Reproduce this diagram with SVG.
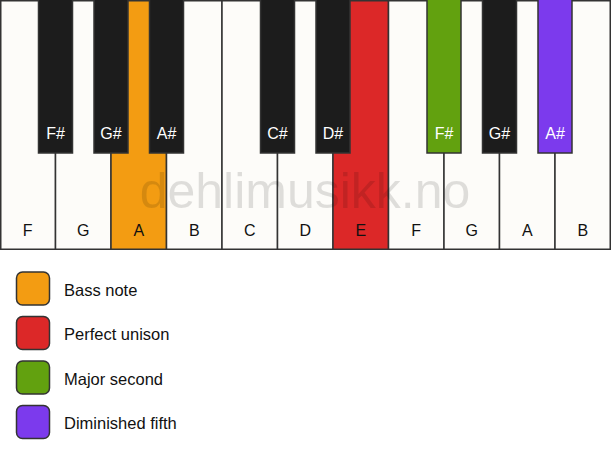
<svg xmlns="http://www.w3.org/2000/svg" width="611" height="461" viewBox="0 0 611 461">
<style>
.w{fill:#fdfcf9;stroke:#333;stroke-width:1.5}
.b{fill:#1c1c1c;stroke:#333;stroke-width:1.5}
.wl{font-family:"Liberation Sans",Arial,sans-serif;font-size:16px;fill:#111;text-anchor:middle}
.bl{font-family:"Liberation Sans",Arial,sans-serif;font-size:16px;fill:#fff;text-anchor:middle}
.lg{font-family:"Liberation Sans",Arial,sans-serif;font-size:16.5px;fill:#111}
.sw{stroke:#333;stroke-width:1.5}
.wm{font-family:"Liberation Sans",Arial,sans-serif;font-size:50px;fill:#000;fill-opacity:0.12;text-anchor:middle}
</style>
<rect x="0" y="0" width="611" height="461" fill="#fff"/>
<g id="white-keys">
<g id="key-F1"><rect class="w" x="0.75" y="0.75" width="54.75" height="248.5"/><text class="wl" x="27.75" y="236">F</text></g>
<g id="key-G1"><rect class="w" x="55.5" y="0.75" width="55.5" height="248.5"/><text class="wl" x="83.25" y="236">G</text></g>
<g id="key-A1"><rect class="w" x="111" y="0.75" width="55.5" height="248.5" style="fill:#f39c12"/><text class="wl" x="138.75" y="236">A</text></g>
<g id="key-B1"><rect class="w" x="166.5" y="0.75" width="55.5" height="248.5"/><text class="wl" x="194.25" y="236">B</text></g>
<g id="key-C"><rect class="w" x="222" y="0.75" width="55.5" height="248.5"/><text class="wl" x="249.75" y="236">C</text></g>
<g id="key-D"><rect class="w" x="277.5" y="0.75" width="55.5" height="248.5"/><text class="wl" x="305.25" y="236">D</text></g>
<g id="key-E"><rect class="w" x="333" y="0.75" width="55.5" height="248.5" style="fill:#dc2828"/><text class="wl" x="360.75" y="236">E</text></g>
<g id="key-F2"><rect class="w" x="388.5" y="0.75" width="55.5" height="248.5"/><text class="wl" x="416.25" y="236">F</text></g>
<g id="key-G2"><rect class="w" x="444" y="0.75" width="55.5" height="248.5"/><text class="wl" x="471.75" y="236">G</text></g>
<g id="key-A2"><rect class="w" x="499.5" y="0.75" width="55.5" height="248.5"/><text class="wl" x="527.25" y="236">A</text></g>
<g id="key-B2"><rect class="w" x="555" y="0.75" width="55.25" height="248.5"/><text class="wl" x="582.75" y="236">B</text></g>
</g>
<text class="wm" x="305" y="208">dehlimusikk.no</text>
<g id="black-keys">
<g id="key-Fs1"><rect class="b" x="38.5" y="-1" width="34" height="154"/><text class="bl" x="55.5" y="139">F#</text></g>
<g id="key-Gs1"><rect class="b" x="94" y="-1" width="34" height="154"/><text class="bl" x="111" y="139">G#</text></g>
<g id="key-As1"><rect class="b" x="149.5" y="-1" width="34" height="154"/><text class="bl" x="166.5" y="139">A#</text></g>
<g id="key-Cs"><rect class="b" x="260.5" y="-1" width="34" height="154"/><text class="bl" x="277.5" y="139">C#</text></g>
<g id="key-Ds"><rect class="b" x="316" y="-1" width="34" height="154"/><text class="bl" x="333" y="139">D#</text></g>
<g id="key-Fs2"><rect class="b" x="427" y="-1" width="34" height="154" style="fill:#62a10f"/><text class="bl" x="444" y="139">F#</text></g>
<g id="key-Gs2"><rect class="b" x="482.5" y="-1" width="34" height="154"/><text class="bl" x="499.5" y="139">G#</text></g>
<g id="key-As2"><rect class="b" x="538" y="-1" width="34" height="154" style="fill:#7c3aed"/><text class="bl" x="555" y="139">A#</text></g>
</g>
<g id="legend">
<g id="legend-bass"><rect class="sw" x="16.5" y="272" width="33" height="33" rx="6" fill="#f39c12"/><text class="lg" x="64" y="295.5">Bass note</text></g>
<g id="legend-unison"><rect class="sw" x="16.5" y="316.5" width="33" height="33" rx="6" fill="#dc2828"/><text class="lg" x="64" y="340">Perfect unison</text></g>
<g id="legend-second"><rect class="sw" x="16.5" y="361" width="33" height="33" rx="6" fill="#62a10f"/><text class="lg" x="64" y="384.5">Major second</text></g>
<g id="legend-fifth"><rect class="sw" x="16.5" y="405.5" width="33" height="33" rx="6" fill="#7c3aed"/><text class="lg" x="64" y="429">Diminished fifth</text></g>
</g>
<g id="connectors"/>
</svg>
